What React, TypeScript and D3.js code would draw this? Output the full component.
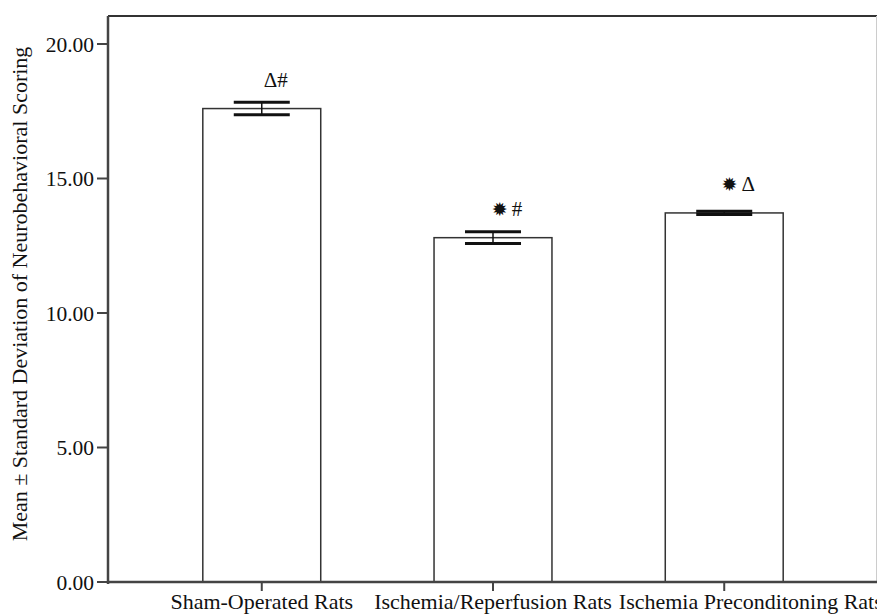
import React, { useLayoutEffect, useRef } from "react";
import * as d3 from "d3";

// group names, means, SDs and significance marks
const groups = ["Sham-Operated Rats", "Ischemia/Reperfusion Rats", "Ischemia Preconditoning Rats"];
const means = [17.6, 12.8, 13.72];
const sds = [0.23, 0.22, 0.06];
const marks = [["Δ", "#"], ["✹", "#"], ["✹", "Δ"]];
const yTicks = [0, 5, 10, 15, 20];

const W = 877;
const H = 614;
const left = 108;
const top = 16;
const bottom = 582;
const serif = "'Liberation Serif', 'Times New Roman', serif";

const App = () => {
  const labelsRef = useRef<SVGGElement | null>(null);

  const x = d3.scaleBand<string>().domain(groups).range([left, 878]).paddingInner(0.49).paddingOuter(0.41);
  const y = d3.scaleLinear().domain([0, 20]).range([bottom, 44]);
  const bw = x.bandwidth();
  const capW = bw * 0.475;

  // push category labels apart like SPSS does when they would collide
  useLayoutEffect(() => {
    if (!labelsRef.current) return;
    const texts = d3.select(labelsRef.current).selectAll<SVGTextElement, unknown>("text").nodes();
    let prevEnd = -Infinity;
    texts.forEach((t) => {
      const w = t.getComputedTextLength();
      const cx = +t.getAttribute("data-cx")!;
      let start = cx - w / 2;
      if (start < prevEnd + 7) start = prevEnd + 7;
      t.setAttribute("x", String(start + w / 2));
      prevEnd = start + w;
    });
  }, []);

  return (
    <div style={{ position: "fixed", left: 0, top: 0 }}>
      <svg width={W} height={H} style={{ display: "block", background: "#fff" }}>
        {/* frame */}
        <line x1={left} x2={W} y1={top} y2={top} stroke="#333" strokeWidth={2} />
        <line x1={W - 0.5} x2={W - 0.5} y1={top} y2={bottom} stroke="#ccc" strokeWidth={1} />

        {/* bars */}
        {groups.map((g, i) => (
          <rect
            key={g}
            x={x(g)!}
            y={y(means[i])}
            width={bw}
            height={bottom - y(means[i])}
            fill="#fff"
            stroke="#333"
            strokeWidth={1.5}
          />
        ))}

        {/* error bars */}
        {groups.map((g, i) => {
          const cx = x(g)! + bw / 2;
          const hi = y(means[i] + sds[i]);
          const lo = y(means[i] - sds[i]);
          return (
            <g key={g + "err"} stroke="#111">
              <line x1={cx} x2={cx} y1={hi} y2={lo} strokeWidth={1.5} />
              <line x1={cx - capW / 2} x2={cx + capW / 2} y1={hi} y2={hi} strokeWidth={3} />
              <line x1={cx - capW / 2} x2={cx + capW / 2} y1={lo} y2={lo} strokeWidth={3} />
            </g>
          );
        })}

        {/* significance marks */}
        {groups.map((g, i) => {
          const cx = x(g)! + bw / 2 + 14;
          return (
            <text key={g + "mk"} x={cx} y={y(means[i]) - 22} textAnchor="middle" fill="#111" fontFamily={serif} fontSize={21}>
              {marks[i].map((m, j) =>
                m === "✹" ? (
                  <tspan key={j} fontFamily="'DejaVu Sans', sans-serif" fontSize={19}>
                    {m}
                  </tspan>
                ) : (
                  <tspan key={j} dx={j && marks[i][0] === "✹" ? 4 : 0}>{m}</tspan>
                )
              )}
            </text>
          );
        })}

        {/* y axis */}
        <line x1={left} x2={left} y1={top} y2={bottom + 2} stroke="#444" strokeWidth={2.5} />
        {yTicks.map((t) => (
          <g key={t}>
            <line x1={left - 11} x2={left} y1={y(t)} y2={y(t)} stroke="#444" strokeWidth={2} />
            <text x={left - 14} y={y(t)} dy="0.35em" textAnchor="end" fontFamily={serif} fontSize={21.5} fill="#111">
              {t.toFixed(2)}
            </text>
          </g>
        ))}
        <text
          transform={`translate(27,294) rotate(-90)`}
          textAnchor="middle"
          fontFamily={serif}
          fontSize={22}
          fill="#111"
        >
          Mean ± Standard Deviation of Neurobehavioral Scoring
        </text>

        {/* x axis */}
        <line x1={left} x2={W} y1={bottom} y2={bottom} stroke="#444" strokeWidth={2.5} />
        {groups.map((g) => {
          const cx = x(g)! + bw / 2;
          return (
            <line key={g + "tk"} x1={cx} x2={cx} y1={bottom} y2={bottom + 9} stroke="#444" strokeWidth={2} />
          );
        })}
        <g ref={labelsRef}>
          {groups.map((g) => {
            const cx = x(g)! + bw / 2;
            return (
              <text key={g + "lb"} data-cx={cx} x={cx} y={609} textAnchor="middle" fontFamily={serif} fontSize={22} fill="#111">
                {g}
              </text>
            );
          })}
        </g>
      </svg>
    </div>
  );
};

export default App;
